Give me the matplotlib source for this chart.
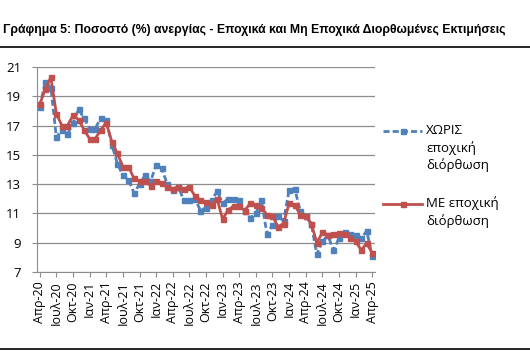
import numpy as np
import matplotlib
matplotlib.use('Agg')
import matplotlib.pyplot as plt
from matplotlib.lines import Line2D

# Monthly unemployment rate (%), Apr-2020 .. Apr-2025
MONTHS_GR = ['Ιαν', 'Φεβ', 'Μαρ', 'Απρ', 'Μαϊ', 'Ιουν',
             'Ιουλ', 'Αυγ', 'Σεπ', 'Οκτ', 'Νοε', 'Δεκ']
START_MONTH, START_YEAR, N_MONTHS = 3, 2020, 61

not_adjusted = [18.3, 20.0, 19.6, 16.2, 16.7, 16.4, 17.2, 18.1, 17.5, 16.8,
                16.8, 17.5, 17.4, 15.7, 14.4, 13.6, 13.3, 12.4, 13.0, 13.6,
                13.2, 14.3, 14.1, 13.0, 12.6, 12.8, 11.9, 11.9, 12.0, 11.2,
                11.4, 11.9, 12.5, 11.7, 12.0, 12.0, 11.9, 11.2, 10.7, 11.0,
                11.9, 9.6, 10.2, 10.8, 10.5, 12.6, 12.7, 11.2, 10.8, 10.3,
                8.2, 9.1, 9.5, 8.5, 9.3, 9.7, 9.6, 9.5, 9.3, 9.8, 8.1]
adjusted = [18.45, 19.5, 20.3, 17.8, 17.0, 17.0, 17.7, 17.4, 16.7, 16.1,
            16.1, 16.7, 17.2, 15.9, 15.1, 14.2, 14.2, 13.4, 13.2, 13.2,
            12.9, 13.2, 13.1, 12.8, 12.7, 12.8, 12.7, 12.8, 12.2, 11.9,
            11.8, 11.6, 12.0, 10.6, 11.25, 11.5, 11.5, 11.2, 11.7, 11.6,
            11.4, 10.9, 10.8, 10.1, 10.3, 11.7, 11.6, 10.9, 10.8, 10.3,
            9.0, 9.7, 9.55, 9.6, 9.65, 9.6, 9.35, 9.1, 8.5, 8.95, 8.3]

LABEL_NA = 'ΧΩΡΙΣ\nεποχική\nδιόρθωση'
LABEL_SA = 'ΜΕ εποχική\nδιόρθωση'
TITLE = 'Γράφημα 5: Ποσοστό (%) ανεργίας - Εποχικά και Μη Εποχικά Διορθωμένες Εκτιμήσεις'
Y_TICKS = [7, 9, 11, 13, 15, 17, 19, 21]

BLUE = '#4F81BD'
RED = '#C0504D'
GRID = '#8C8C8C'

plt.rcParams['font.family'] = ['Open Sans', 'DejaVu Sans']

W, H = 530, 358
fig = plt.figure(figsize=(W / 100, H / 100), dpi=100)
ax = fig.add_axes([37 / W, 1 - 272 / H, (375 - 37) / W, (272 - 67) / H])

x = np.arange(N_MONTHS)
ax.plot(x, not_adjusted, color=BLUE, lw=2.0, ls=(0, (2.2, 1.1)),
        marker='s', ms=3.6, zorder=3)
ax.plot(x, adjusted, color=RED, lw=2.0, marker='s', ms=3.6, zorder=4)

ax.set_xlim(-0.5, N_MONTHS - 0.5)
ax.set_ylim(7, 21)
ax.set_yticks(Y_TICKS)
ax.set_yticklabels([str(t) for t in Y_TICKS], fontsize=9.5)
ax.grid(axis='y', color=GRID, lw=0.9)
ax.set_axisbelow(True)

tick_pos = list(range(0, N_MONTHS, 3))
tick_lab = []
for i in tick_pos:
    m = (START_MONTH + i) % 12
    yr = START_YEAR + (START_MONTH + i) // 12
    tick_lab.append(f'{MONTHS_GR[m]}-{yr % 100:02d}')
ax.set_xticks(tick_pos)
ax.set_xticklabels(tick_lab, rotation=90, fontsize=9)

for s in ['top', 'right']:
    ax.spines[s].set_visible(False)
for s in ['left', 'bottom']:
    ax.spines[s].set_color(GRID)
ax.tick_params(axis='both', color=GRID, length=3.5, width=0.8)
ax.tick_params(axis='y', pad=8)
ax.tick_params(axis='x', pad=3)

# legend, handles aligned with the first text line as in Excel
fig.add_artist(Line2D([383 / W, 422 / W], [1 - 131.5 / H] * 2, color=BLUE,
                      lw=2.0, ls=(0, (2.2, 1.1)), transform=fig.transFigure))
fig.add_artist(Line2D([402.5 / W], [1 - 131.5 / H], color=BLUE, marker='s',
                      ms=3.6, transform=fig.transFigure))
fig.add_artist(Line2D([383 / W, 422 / W], [1 - 204 / H] * 2, color=RED,
                      lw=2.0, transform=fig.transFigure))
fig.add_artist(Line2D([402.5 / W], [1 - 204 / H], color=RED, marker='s',
                      ms=3.6, transform=fig.transFigure))
fig.text(426 / W, 1 - 124 / H, LABEL_NA, fontsize=9.5, va='top', ha='left',
         linespacing=1.35)
fig.text(426 / W, 1 - 196.5 / H, LABEL_SA, fontsize=9.5, va='top', ha='left',
         linespacing=1.35)

# title kept whole inside the canvas, right edge as in the source
fig.text(3 / W, 1 - 30 / H, TITLE, fontsize=8.8, fontweight='bold',
         ha='left', va='center', family=['Liberation Sans', 'DejaVu Sans'])
fig.add_artist(Line2D([0, 1], [1 - 47 / H] * 2, color='black', lw=1.2,
                      transform=fig.transFigure))
fig.add_artist(Line2D([0, 1], [1 - 348.5 / H] * 2, color='black', lw=1.2,
                      transform=fig.transFigure))

fig.savefig('out.png', dpi=100)
